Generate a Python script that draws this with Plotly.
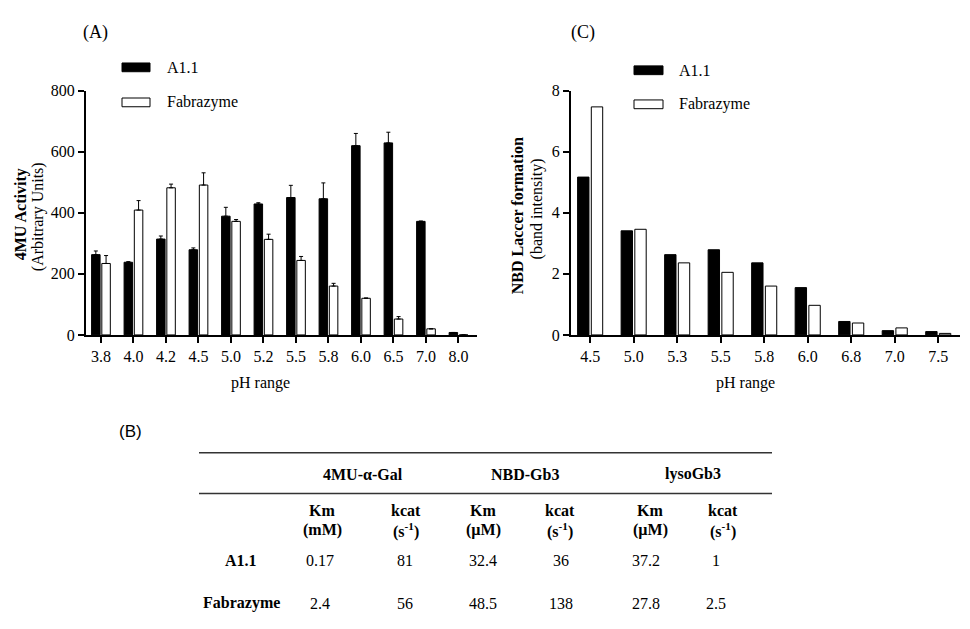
import plotly.graph_objects as go

# ---------------- data ----------------
ph_A = ["3.8", "4.0", "4.2", "4.5", "5.0", "5.2", "5.5", "5.8", "6.0", "6.5", "7.0", "8.0"]
a11_A = [263, 238, 314, 279, 389, 429, 450, 446, 620, 629, 372, 8]
a11_A_err = [12, 2, 10, 6, 29, 4, 40, 52, 40, 35, 1, 0]
fab_A = [234, 409, 482, 491, 372, 313, 244, 160, 120, 52, 20, 0]
fab_A_err = [26, 31, 12, 40, 6, 17, 13, 9, 1, 8, 0, 0]

ph_C = ["4.5", "5.0", "5.3", "5.5", "5.8", "6.0", "6.8", "7.0", "7.5"]
a11_C = [5.17, 3.41, 2.63, 2.79, 2.36, 1.55, 0.44, 0.14, 0.11]
fab_C = [7.47, 3.46, 2.36, 2.05, 1.60, 0.97, 0.39, 0.23, 0.05]

series_names = ["A1.1", "Fabrazyme"]

substrates = ["4MU-α-Gal", "NBD-Gb3", "lysoGb3"]
param_names = ["Km", "kcat", "Km", "kcat", "Km", "kcat"]
param_units = ["(mM)", "(s<sup>-1</sup>)", "(µM)", "(s<sup>-1</sup>)", "(µM)", "(s<sup>-1</sup>)"]
row_labels = ["A1.1", "Fabrazyme"]
a11_kin = ["0.17", "81", "32.4", "36", "37.2", "1"]
fab_kin = ["2.4", "56", "48.5", "138", "27.8", "2.5"]

# ---------------- layout helpers ----------------
W, H = 970, 629
SERIF = "Liberation Serif"


def px(x):
    return x / W


def py(y):
    return 1 - y / H


fig = go.Figure()

# Panel A
fig.add_trace(go.Bar(x=ph_A, y=a11_A, name=series_names[0], xaxis="x", yaxis="y",
                     marker=dict(color="black", line=dict(color="black", width=1)),
                     error_y=dict(type="data", symmetric=False, array=a11_A_err,
                                  arrayminus=[0] * len(a11_A), color="black", thickness=1, width=2),
                     showlegend=False))
fig.add_trace(go.Bar(x=ph_A, y=fab_A, name=series_names[1], xaxis="x", yaxis="y",
                     marker=dict(color="white", line=dict(color="black", width=1)),
                     error_y=dict(type="data", symmetric=False, array=fab_A_err,
                                  arrayminus=[0] * len(fab_A), color="black", thickness=1, width=2),
                     showlegend=False))
# Panel C
fig.add_trace(go.Bar(x=ph_C, y=a11_C, name=series_names[0], xaxis="x2", yaxis="y2",
                     marker=dict(color="black", line=dict(color="black", width=1)),
                     showlegend=False))
fig.add_trace(go.Bar(x=ph_C, y=fab_C, name=series_names[1], xaxis="x2", yaxis="y2",
                     marker=dict(color="white", line=dict(color="black", width=1)),
                     showlegend=False))

axis_common = dict(showline=True, linecolor="black", linewidth=2, ticks="outside",
                   ticklen=6, tickwidth=2, tickcolor="black", showgrid=False, zeroline=False,
                   tickfont=dict(family=SERIF, size=16, color="black"))

ydom = [py(336), py(85)]
fig.update_layout(
    width=W, height=H, margin=dict(l=0, r=0, t=0, b=0),
    paper_bgcolor="white", plot_bgcolor="white",
    barmode="group", bargap=0.37, bargroupgap=0.17,
    xaxis=dict(domain=[px(86), px(477)], range=[-0.46, 11.57], anchor="y", type="category",
               **axis_common),
    yaxis=dict(domain=ydom, range=[0, 800], dtick=200, anchor="x", **axis_common),
    xaxis2=dict(domain=[px(571), px(960)], range=[-0.44, 8.5], anchor="y2", type="category",
                **axis_common),
    yaxis2=dict(domain=ydom, range=[0, 8], dtick=2, anchor="x2", **axis_common),
)

ann = []
shapes = []


def text(x, y, t, size=15, bold=False, family=SERIF, xanchor="center", angle=0):
    if bold:
        t = "<b>" + t + "</b>"
    ann.append(dict(x=px(x), y=py(y), xref="paper", yref="paper", text=t, showarrow=False,
                    xanchor=xanchor, yanchor="middle", textangle=angle,
                    font=dict(family=family, size=size, color="black")))


# panel labels
text(95, 25, "(A)", size=18)
text(583, 25, "(C)", size=18)
text(130, 435, "(B)", size=17, family="Liberation Sans")

# axis titles
text(21, 212, "4MU Activity", size=16, bold=True, angle=-90)
text(38, 215, "(Arbitrary Units)", size=16, angle=-90)
text(517, 214, "NBD Laccer formation", size=16, bold=True, angle=-90)
text(537, 207, "(band intensity)", size=16, angle=-90)
text(260, 385, "pH range", size=16)
text(745, 385, "pH range", size=16)

# legends
for (x0, x1, tx), ys in [((122, 150, 165), (61, 97)), ((634, 663, 677), (64, 99))]:
    for i, yc in enumerate(ys):
        shapes.append(dict(type="rect", xref="paper", yref="paper",
                           x0=px(x0), x1=px(x1), y0=py(yc - 4.5), y1=py(yc + 4.5),
                           fillcolor="black" if i == 0 else "white",
                           line=dict(color="black", width=1)))
        text(tx, yc, series_names[i], size=16, xanchor="left")

# table (B)
for yl in (457, 499):
    shapes.append(dict(type="line", xref="paper", yref="paper", x0=px(199), x1=px(772),
                       y0=py(yl), y1=py(yl), line=dict(color="#333", width=1.5)))
for s, xc in zip(substrates, [363, 525, 693]):
    text(xc, 479, s, size=16, bold=True)
col_x = [322, 406, 483, 560, 650, 723]
for nm, un, xc in zip(param_names, param_units, col_x):
    text(xc, 516, nm, size=16, bold=True)
    text(xc, 537, un, size=16, bold=True)
val_x = [320, 405, 483, 561, 646, 716]
for rlab, vals, yc in [(row_labels[0], a11_kin, 568), (row_labels[1], fab_kin, 612)]:
    text(241, yc, rlab, size=16, bold=True)
    for v, xc in zip(vals, val_x):
        text(xc, yc, v, size=16)

fig.update_layout(annotations=ann, shapes=shapes)

fig.write_html("out.html", config={"displayModeBar": False},
               post_script="document.body.style.margin='0';")
